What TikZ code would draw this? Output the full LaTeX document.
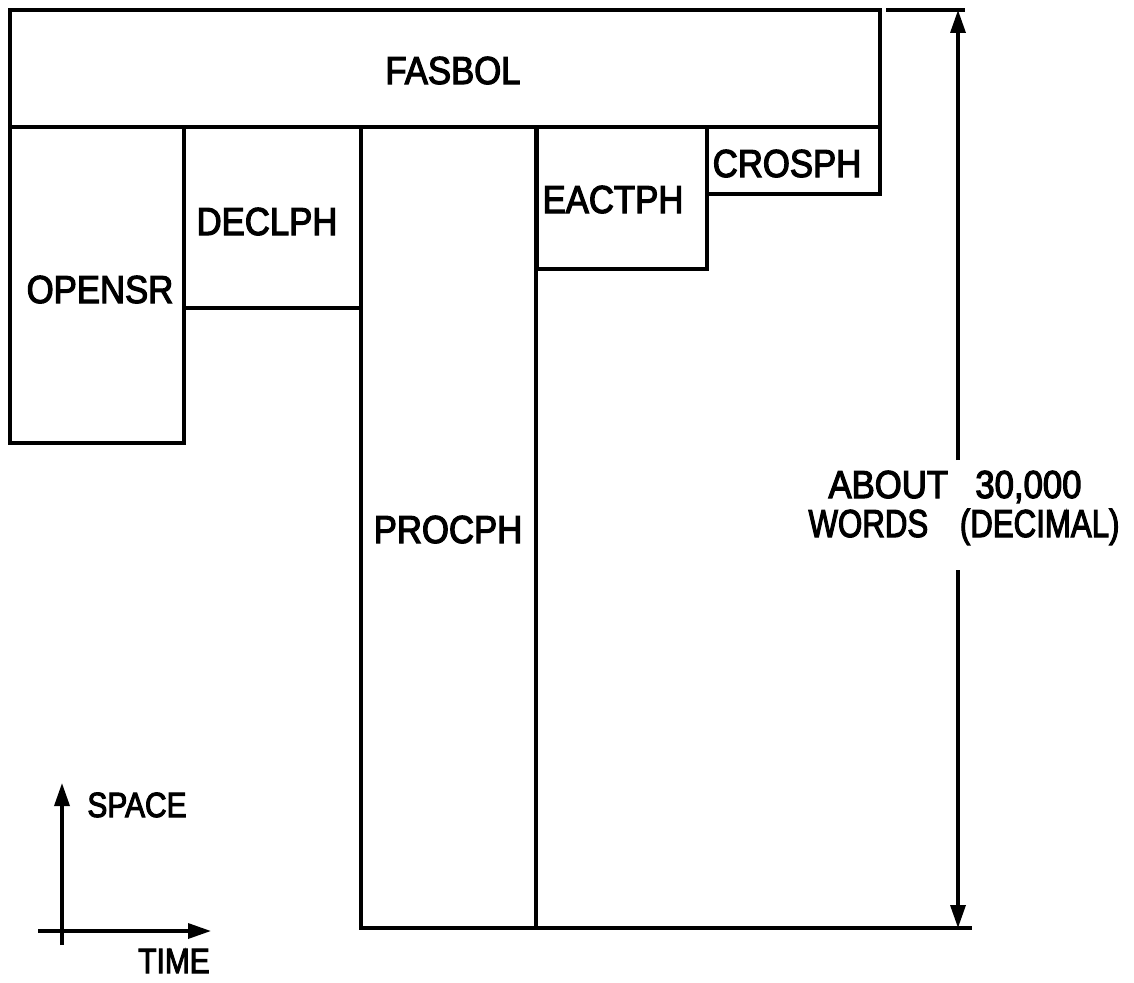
\documentclass[tikz,border=0pt]{standalone}
\usepackage{fontspec}
\newfontfamily\lettering[FakeStretch=0.89,FakeBold=3]{Liberation Sans}
\usetikzlibrary{arrows.meta}
\begin{document}
\begin{tikzpicture}[x=1pt,y=-1pt,
  line width=3.4pt,
  blk/.style={draw, anchor=north west, inner sep=0pt, outer sep=0pt},
  lbl/.style={font=\lettering\fontsize{39}{46}\selectfont, inner sep=0pt, anchor=base},
  axlbl/.style={font=\lettering\fontsize{35}{40}\selectfont, inner sep=0pt, anchor=base, xscale=0.96},
  tip/.style={-{Triangle[length=23pt,width=15pt]}}]
\useasboundingbox (0,0) rectangle (1134,982);
% blocks
\node[blk, minimum width=870pt, minimum height=117pt] (fas) at (10,10) {};
\node[blk, minimum width=174pt, minimum height=316pt] (ope) at (10,127) {};
\node[blk, minimum width=177pt, minimum height=181pt] (dec) at (184,127) {};
\node[blk, minimum width=175pt, minimum height=801pt] (pro) at (361,127) {};
\node[blk, minimum width=170pt, minimum height=142pt] (eac) at (537,127) {};
\node[blk, minimum width=173pt, minimum height=67pt]  (cro) at (707,127) {};
% labels
\node[lbl] (tfas) at (453,84) {FASBOL};
\node[lbl] (tope) at (100,303) {OPENSR};
\node[lbl] (tdec) at (267,235) {DECLPH};
\node[lbl] (tpro) at (448,543) {PROCPH};
\node[lbl] (teac) at (613,213) {EACTPH};
\node[lbl] (tcro) at (787,177) {CROSPH};
% dimension
\coordinate (t1) at (886,10);
\coordinate (t2) at (965,10);
\coordinate (b1) at (537,928);
\coordinate (b2) at (972,928);
\draw (t1) -- (t2);
\draw (b1) -- (b2);
\node[lbl] (size1) at (955,498) {ABOUT\hspace{0.7em}30,000};
\node[lbl, xscale=0.9] (size2) at (964,537) {WORDS\hspace{0.9em}(DECIMAL)};
\coordinate (a1) at (958,460);
\coordinate (a2) at (958,570);
\coordinate (at) at (958,10);
\coordinate (ab) at (958,928);
\draw[tip] (a1) -- (at);
\draw[tip] (a2) -- (ab);
% axes
\coordinate (ys) at (62,945);
\coordinate (ye) at (62,783);
\coordinate (xs) at (38,931);
\coordinate (xe) at (211,931);
\draw[tip] (ys) -- (ye);
\draw[tip] (xs) -- (xe);
\node[axlbl] (space) at (137,817) {SPACE};
\node[axlbl] (time) at (174,973) {TIME};
\end{tikzpicture}
\end{document}
